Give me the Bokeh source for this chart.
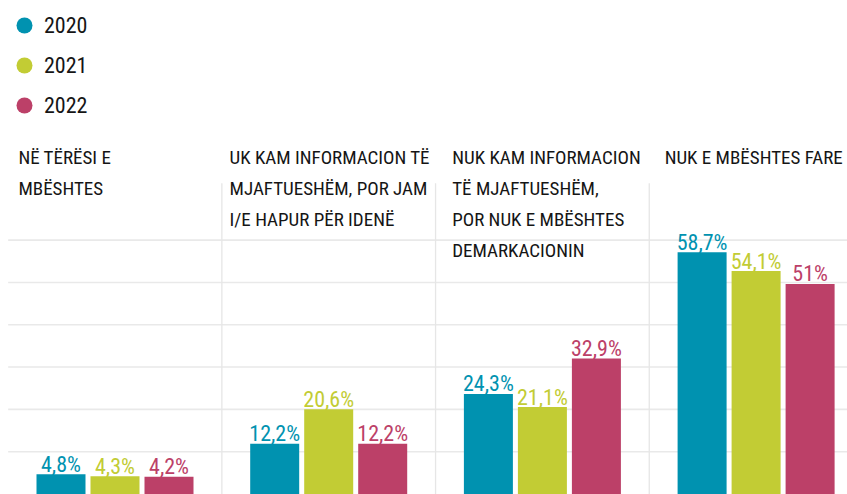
from bokeh.plotting import figure
from bokeh.models import ColumnDataSource, Range1d, Legend, LegendItem
from bokeh.core.properties import value
from bokeh.embed import file_html
from bokeh.resources import INLINE

# ---------------- data ----------------
years = ["2020", "2021", "2022"]
category_lines = [
    ["NË TËRËSI E", "MBËSHTES"],
    ["UK KAM INFORMACION TË", "MJAFTUESHËM, POR JAM", "I/E HAPUR PËR IDENË"],
    ["NUK KAM INFORMACION", "TË MJAFTUESHËM,", "POR NUK E MBËSHTES", "DEMARKACIONIN"],
    ["NUK E MBËSHTES FARE"],
]
values_2020 = [4.8, 12.2, 24.3, 58.7]
values_2021 = [4.3, 20.6, 21.1, 54.1]
values_2022 = [4.2, 12.2, 32.9, 51.0]
series = [values_2020, values_2021, values_2022]

# ---------------- style ----------------
COLORS = ["#0092B0", "#C2CC34", "#BC4068"]
FONT = "Roboto Condensed"
BAR_STEP = 0.2527
BAR_WIDTH = 0.2293
GRID_STEP = 10.27
TITLE_Y = 81.7          # centre of first title line (data units)
TITLE_LINE_PX = 31
TITLE_SHIFT = -0.44
TITLE_NUDGE = [-0.012, -0.024, 0.018, 0.012]
DIVIDER_TOP = 75.4

W, H = 847, 494

p = figure(width=W, height=H, output_backend="svg", toolbar_location=None,
           x_range=Range1d(-0.5358, 3.4277), y_range=Range1d(-0.12, 119.78),
           min_border=0, outline_line_color=None, background_fill_color="white",
           border_fill_color="white")
p.xaxis.visible = False
p.yaxis.visible = False
p.xgrid.visible = False
p.ygrid.visible = False

n = len(category_lines)

# horizontal guide lines
gy = [GRID_STEP * k for k in range(1, 7)]
p.segment(x0=[-0.5] * len(gy), y0=gy, x1=[n] * len(gy), y1=gy,
          line_color="#e9e9e9", line_width=1.6)

# vertical dividers between groups
p.segment(x0=[i + 0.5 for i in range(n - 1)], y0=[DIVIDER_TOP] * (n - 1),
          x1=[i + 0.5 for i in range(n - 1)], y1=[0] * (n - 1),
          line_color="#e6e6e6", line_width=1.3)

def fmt(v):
    if abs(v - round(v)) < 1e-9:
        return f"{int(round(v))}%"
    return f"{v:.1f}%".replace(".", ",")

legend_items = []
sources = []
for j, (yr, vals) in enumerate(zip(years, series)):
    xs = [i + (j - 1) * BAR_STEP for i in range(n)]
    src = ColumnDataSource(dict(x=xs, top=vals, label=[fmt(v) for v in vals]))
    sources.append(src)
    p.vbar(x="x", top="top", bottom=0, width=BAR_WIDTH, source=src,
           fill_color=COLORS[j], line_color=None)
    r = p.scatter(x=[-50], y=[-50], marker="circle", size=16,
                  fill_color=COLORS[j], line_color=None)
    legend_items.append(LegendItem(label=yr, renderers=[r]))

for j, src in enumerate(sources):
    p.text(x="x", y="top", text="label", source=src, y_offset=-10,
           text_align="center", text_baseline="alphabetic",
           text_font=value(FONT), text_font_size="22px", text_color=COLORS[j])

# category titles
tx, ty, tt, toff = [], [], [], []
for i, lines in enumerate(category_lines):
    for k, line in enumerate(lines):
        tx.append(i + TITLE_SHIFT + TITLE_NUDGE[i])
        ty.append(TITLE_Y)
        tt.append(line)
        toff.append(k * TITLE_LINE_PX)
p.text(x="x", y="y", text="t", y_offset="o",
       source=ColumnDataSource(dict(x=tx, y=ty, t=tt, o=toff)),
       text_align="left", text_baseline="alphabetic",
       text_font=value(FONT), text_font_size="19px", text_color="#151515")

legend = Legend(items=legend_items, location=(4, 369), orientation="vertical",
                glyph_width=40, glyph_height=40, label_height=40, spacing=0,
                padding=0, margin=0, label_standoff=0,
                border_line_color=None, background_fill_alpha=0,
                label_text_font=FONT, label_text_font_size="22px",
                label_text_color="#151515")
p.add_layout(legend)

open("out.html", "w").write(file_html(p, INLINE))
